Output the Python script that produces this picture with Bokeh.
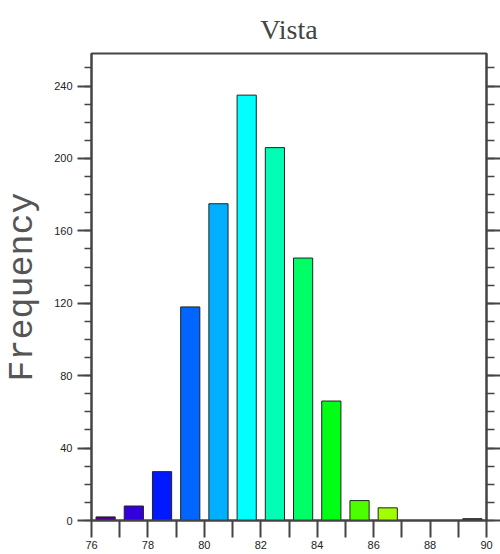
import numpy as np
from bokeh.plotting import figure
from bokeh.models import LinearAxis, SingleIntervalTicker, FixedTicker, Range1d, ColumnDataSource
from bokeh.embed import file_html
from bokeh.resources import INLINE

# Data
bin_centers = [76.5, 77.5, 78.5, 79.5, 80.5, 81.5, 82.5, 83.5, 84.5, 85.5, 86.5, 87.5, 88.5, 89.5]
frequency = [2, 8, 27, 118, 175, 235, 206, 145, 66, 11, 7, 0, 0, 1]
bar_colors = ["#4a0090", "#3300dd", "#0019ff", "#0066ff", "#00b0ff", "#00ffff", "#00ffb4",
              "#00ff66", "#00ff14", "#4cff00", "#a0ff00", "#ffff00", "#ff9900", "#662200"]
x_ticks = list(range(76, 91))
y_ticks = [0, 40, 80, 120, 160, 200, 240]

src = ColumnDataSource(dict(x=bin_centers, top=frequency, color=bar_colors))

AX = "#444444"

p = figure(width=500, height=554, output_backend="svg", toolbar_location=None,
           x_range=Range1d(76, 90), y_range=Range1d(0, 258),
           min_border_left=90, min_border_right=9, min_border_top=53, min_border_bottom=34,
           x_axis_location="below", y_axis_location="left")
p.title.text = "Vista"
p.title.align = "center"
p.title.vertical_align = "top"
p.title.text_font = "Liberation Serif"
p.title.text_font_size = "28px"
p.title.text_font_style = "normal"
p.title.text_color = "#444444"
p.title.standoff = 14

p.grid.visible = False
p.outline_line_color = AX
p.outline_line_width = 2
p.background_fill_color = "white"
p.border_fill_color = "white"

p.vbar(x="x", top="top", width=0.68, bottom=0, fill_color="color", line_color="#222222",
       line_width=1, source=src)

# Y axis (left)
yax = p.yaxis[0]
yax.ticker = SingleIntervalTicker(interval=40, num_minor_ticks=4)
yax.major_tick_out = 14
yax.major_tick_in = 0
yax.minor_tick_out = 7
yax.minor_tick_in = 0
yax.axis_line_color = AX
yax.axis_line_width = 2
yax.major_tick_line_color = AX
yax.major_tick_line_width = 2
yax.minor_tick_line_color = AX
yax.minor_tick_line_width = 1.5
yax.major_label_text_font = "Liberation Sans"
yax.major_label_text_font_size = "11px"
yax.major_label_text_color = "#222222"
yax.major_label_standoff = 5
yax.axis_label = "Frequency"
yax.axis_label_text_font = "Liberation Mono"
yax.axis_label_text_font_size = "35px"
yax.axis_label_text_font_style = "normal"
yax.axis_label_text_color = "#555555"
yax.axis_label_standoff = 8

# Right axis (ticks only)
rax = LinearAxis(ticker=SingleIntervalTicker(interval=40, num_minor_ticks=4))
rax.major_tick_out = 14
rax.major_tick_in = 0
rax.minor_tick_out = 8
rax.minor_tick_in = 0
rax.axis_line_color = AX
rax.axis_line_width = 2
rax.major_tick_line_color = AX
rax.major_tick_line_width = 2
rax.minor_tick_line_color = AX
rax.minor_tick_line_width = 1.5
rax.major_label_text_font_size = "0px"
rax.major_label_text_alpha = 0
p.add_layout(rax, "right")

# X axis (bottom)
xax = p.xaxis[0]
xax.ticker = FixedTicker(ticks=x_ticks)
xax.major_label_overrides = {t: (str(t) if t % 2 == 0 else "") for t in x_ticks}
xax.major_tick_out = 17
xax.major_tick_in = 0
xax.minor_tick_out = 0
xax.axis_line_color = AX
xax.axis_line_width = 2
xax.major_tick_line_color = AX
xax.major_tick_line_width = 2
xax.major_label_text_font = "Liberation Sans"
xax.major_label_text_font_size = "11px"
xax.major_label_text_color = "#222222"
xax.major_label_standoff = 3

open("out.html", "w").write(file_html(p, INLINE))
